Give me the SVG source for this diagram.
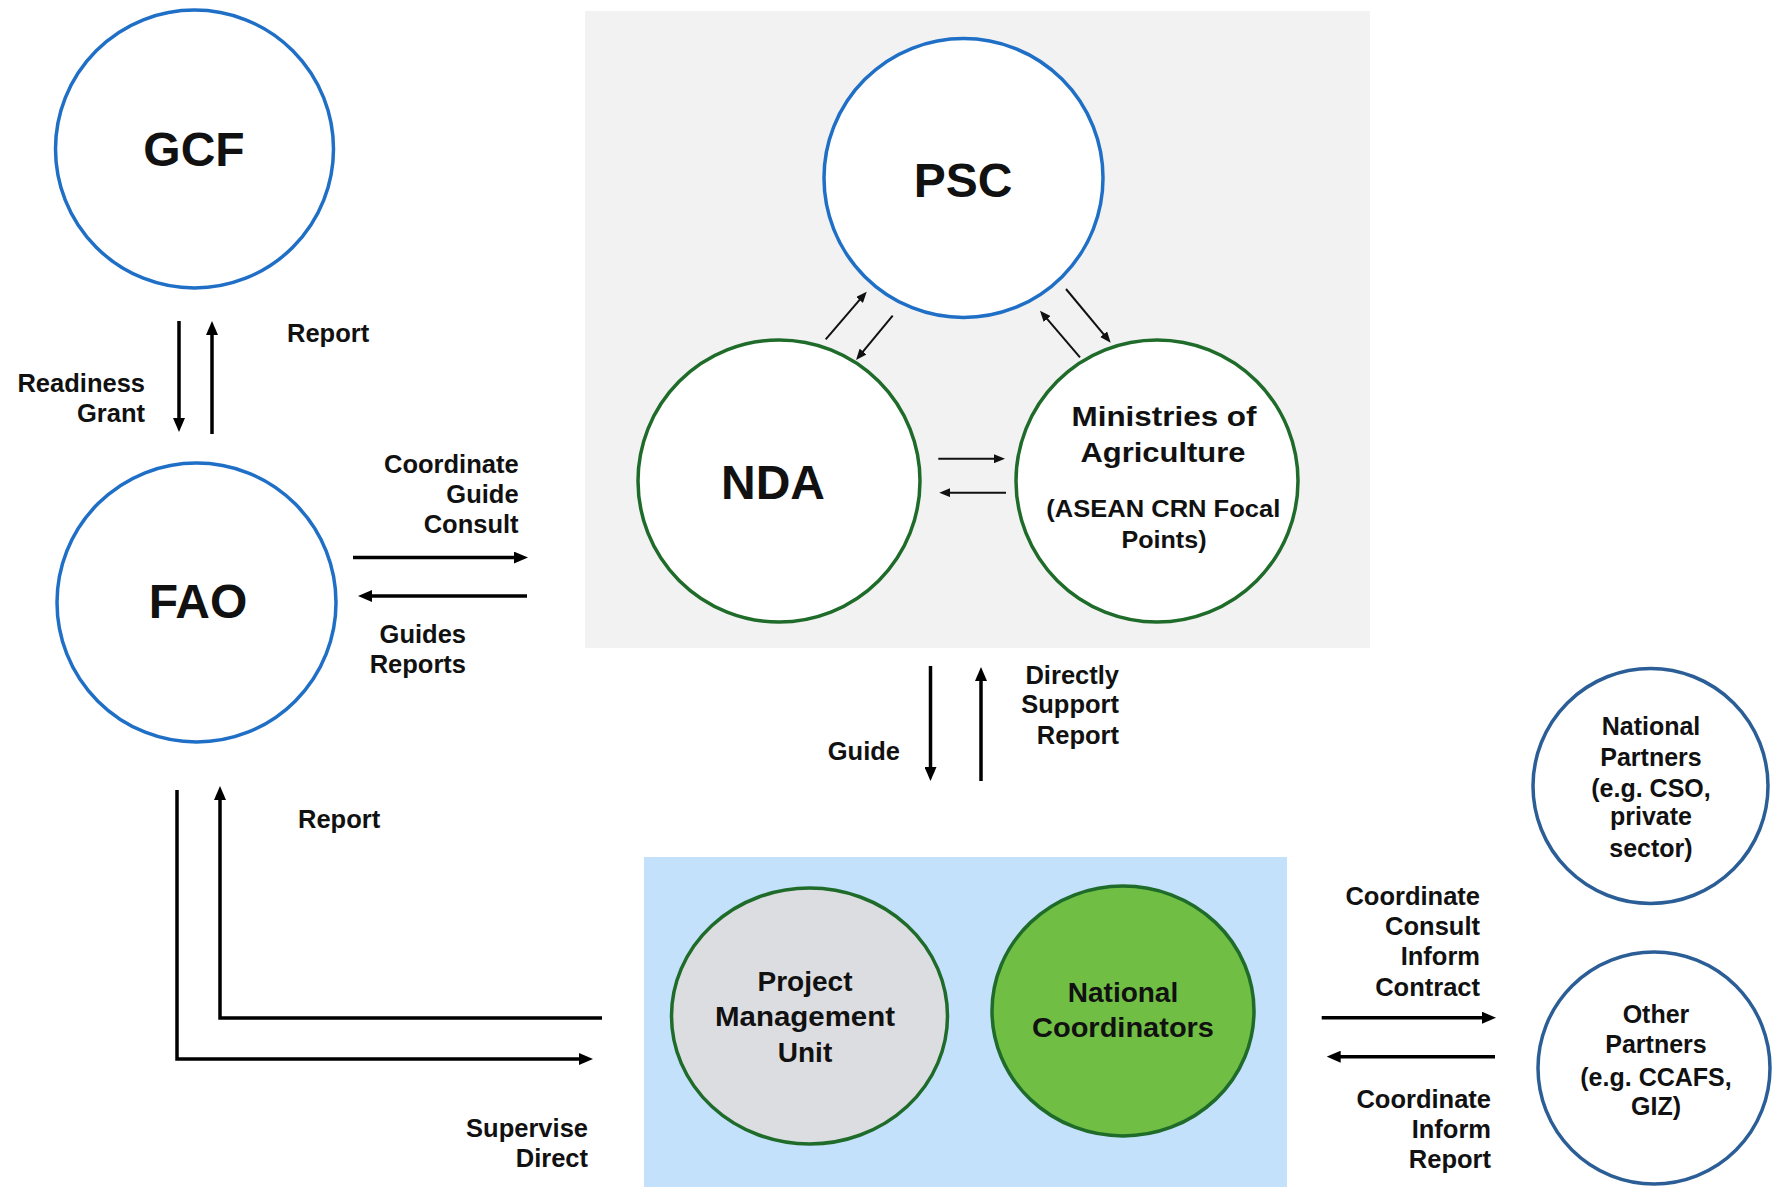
<svg xmlns="http://www.w3.org/2000/svg" width="1772" height="1187" viewBox="0 0 1772 1187">
<defs>
<style>
text{font-family:"Liberation Sans",Arial,sans-serif;font-weight:bold;fill:#111;}
.big{font-size:48px;text-anchor:middle;}
.lbl{font-size:25.5px;}
.end{text-anchor:end;}
.mid{text-anchor:middle;}
.node{font-size:28px;text-anchor:middle;}
.small{font-size:25px;text-anchor:middle;}
.blue{fill:#fff;stroke:#1f6fc6;stroke-width:3.5;}
.green{fill:#fff;stroke:#1e6b2a;stroke-width:3.5;}
.dblue{fill:#fff;stroke:#2b5e96;stroke-width:3.5;}
.thick{fill:none;stroke:#000;stroke-width:3.5;marker-end:url(#ah);}
.thin{fill:none;stroke:#111;stroke-width:2;marker-end:url(#ahs);}
</style>
<marker id="ah" markerUnits="userSpaceOnUse" markerWidth="14" markerHeight="12" refX="8" refY="6" orient="auto">
<path d="M0,0 L14,6 L0,12 z" fill="#000"/>
</marker>
<marker id="ahs" markerUnits="userSpaceOnUse" markerWidth="11" markerHeight="9" refX="7" refY="4.5" orient="auto">
<path d="M0,0 L11,4.5 L0,9 z" fill="#111"/>
</marker>
</defs>
<rect width="1772" height="1187" fill="#fff"/>
<rect id="psc-panel" x="585" y="11" width="785" height="637" fill="#f2f2f2"/>
<rect id="pmu-panel" x="644" y="857" width="643" height="330" fill="#c4e1fb"/>

<g id="connectors">
<line class="thick" x1="179" y1="321" x2="179" y2="426"/>
<line class="thick" x1="212" y1="434" x2="212" y2="327"/>
<line class="thick" x1="353" y1="557.6" x2="522" y2="557.6"/>
<line class="thick" x1="527" y1="596" x2="364" y2="596"/>
<polyline class="thick" points="177,790 177,1059 587,1059"/>
<polyline class="thick" points="602,1018 220,1018 220,792"/>
<line class="thin" x1="825.7" y1="339.3" x2="864.1" y2="294.7"/>
<line class="thin" x1="892.7" y1="315.7" x2="858.6" y2="356.9"/>
<line class="thin" x1="1080" y1="357.3" x2="1042.6" y2="313.7"/>
<line class="thin" x1="1066" y1="289" x2="1108.1" y2="339.6"/>
<line class="thin" x1="938.3" y1="458.7" x2="1001" y2="458.7"/>
<line class="thin" x1="1006" y1="492.7" x2="943.3" y2="492.7"/>
<line class="thick" x1="930.5" y1="666" x2="930.5" y2="775"/>
<line class="thick" x1="981" y1="781" x2="981" y2="673"/>
<line class="thick" x1="1321.7" y1="1017.7" x2="1490" y2="1017.7"/>
<line class="thick" x1="1495" y1="1056.7" x2="1332.7" y2="1056.7"/>
</g>

<g id="labels">
<text class="lbl" x="287" y="342">Report</text>
<text class="lbl end" x="145" y="392">Readiness</text>
<text class="lbl end" x="145" y="422">Grant</text>
<text class="lbl end" x="518.6" y="472.6">Coordinate</text>
<text class="lbl end" x="518.6" y="502.5">Guide</text>
<text class="lbl end" x="518.6" y="532.7">Consult</text>
<text class="lbl end" x="466" y="643">Guides</text>
<text class="lbl end" x="466" y="673">Reports</text>
<text class="lbl" x="298" y="828">Report</text>
<text class="lbl end" x="588" y="1137">Supervise</text>
<text class="lbl end" x="588" y="1167">Direct</text>
<text class="lbl end" x="900" y="760">Guide</text>
<text class="lbl end" x="1119" y="683.6">Directly</text>
<text class="lbl end" x="1119" y="713">Support</text>
<text class="lbl end" x="1119" y="743.6">Report</text>
<text class="lbl end" x="1480" y="905">Coordinate</text>
<text class="lbl end" x="1480" y="935">Consult</text>
<text class="lbl end" x="1480" y="965">Inform</text>
<text class="lbl end" x="1480" y="996">Contract</text>
<text class="lbl end" x="1491" y="1108">Coordinate</text>
<text class="lbl end" x="1491" y="1138">Inform</text>
<text class="lbl end" x="1491" y="1168">Report</text>
</g>

<g id="gcf">
<circle class="blue" cx="194.5" cy="149" r="139"/>
<text class="big" x="194" y="166">GCF</text>
</g>
<g id="fao">
<circle class="blue" cx="196.5" cy="602.5" r="139.5"/>
<text class="big" x="198" y="618">FAO</text>
</g>
<g id="psc">
<circle class="blue" cx="963.5" cy="178" r="139.5"/>
<text class="big" x="963" y="197">PSC</text>
</g>
<g id="nda">
<circle class="green" cx="779" cy="481" r="141"/>
<text class="big" x="773" y="499">NDA</text>
</g>
<g id="ministries">
<circle class="green" cx="1157" cy="481" r="141"/>
<text class="node" x="1164" y="425.7" textLength="185" lengthAdjust="spacingAndGlyphs">Ministries of</text>
<text class="node" x="1163" y="461.7" textLength="165" lengthAdjust="spacingAndGlyphs">Agriculture</text>
<text class="mid" style="font-size:23px" x="1163.3" y="516.7" textLength="234" lengthAdjust="spacingAndGlyphs">(ASEAN CRN Focal</text>
<text class="mid" style="font-size:23px" x="1164" y="548.3" textLength="85" lengthAdjust="spacingAndGlyphs">Points)</text>
</g>
<g id="pmu">
<ellipse cx="809.5" cy="1016" rx="138" ry="128" fill="#dcdde0" stroke="#1e6b2a" stroke-width="3.5"/>
<text class="node" x="805" y="990.7">Project</text>
<text class="node" x="805" y="1025.6" textLength="180" lengthAdjust="spacingAndGlyphs">Management</text>
<text class="node" x="805" y="1062">Unit</text>
</g>
<g id="national-coordinators">
<ellipse cx="1123" cy="1011" rx="131" ry="125" fill="#70bf44" stroke="#1e6b2a" stroke-width="3.5"/>
<text class="node" x="1123" y="1001.7">National</text>
<text class="node" x="1123" y="1036.7" textLength="182" lengthAdjust="spacingAndGlyphs">Coordinators</text>
</g>
<g id="national-partners">
<circle class="dblue" cx="1650.5" cy="786" r="117.5"/>
<text class="small" x="1651" y="735">National</text>
<text class="small" x="1651" y="765.7">Partners</text>
<text class="small" x="1651" y="796.7">(e.g. CSO,</text>
<text class="small" x="1651" y="825">private</text>
<text class="small" x="1651" y="856.7">sector)</text>
</g>
<g id="other-partners">
<circle class="dblue" cx="1654" cy="1068" r="116"/>
<text class="small" x="1656" y="1023">Other</text>
<text class="small" x="1656" y="1053">Partners</text>
<text class="small" x="1656" y="1086">(e.g. CCAFS,</text>
<text class="small" x="1656" y="1115">GIZ)</text>
</g>
</svg>
